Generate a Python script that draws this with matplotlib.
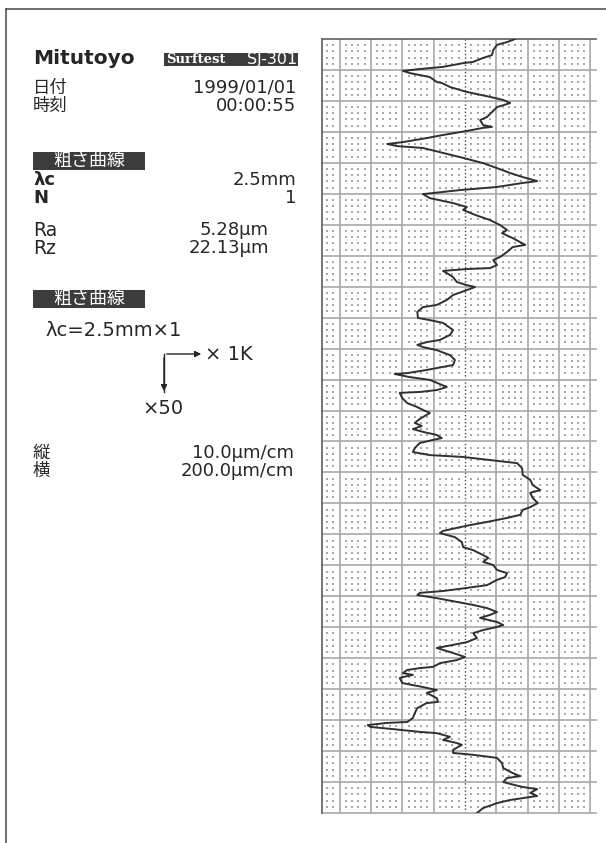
#!/usr/bin/env python3
"""Mitutoyo Surftest SJ-301 roughness printout, redrawn."""
import matplotlib

matplotlib.use("Agg")
import matplotlib.pyplot as plt
import numpy as np
from matplotlib.patches import Rectangle

# profile: position along the sample (um) and height (um)
position_um = [
    0, 10, 19, 36, 52, 61, 74, 78, 90, 97, 103, 110, 123, 139, 142, 155, 171, 187, 197, 207,
    220, 236, 252, 262, 278, 284, 287, 297, 310, 320, 333, 339, 346, 352, 368, 384, 401, 417, 433, 446,
    459, 465, 478, 488, 501, 514, 530, 543, 552, 568, 585, 601, 617, 627, 643, 665, 672, 688, 704, 714,
    730, 740, 743, 749, 756, 769, 785, 795, 801, 811, 827, 843, 859, 866, 882, 901, 908, 917, 940, 956,
    972, 979, 988, 995, 1005, 1021, 1037, 1053, 1059, 1069, 1079, 1082, 1092, 1101, 1124, 1134, 1140, 1143, 1160, 1176,
    1189, 1198, 1208, 1227, 1240, 1250, 1260, 1269, 1279, 1289, 1295, 1305, 1321, 1334, 1344, 1350, 1360, 1370, 1386, 1408,
    1424, 1441, 1457, 1466, 1483, 1499, 1512, 1521, 1537, 1547, 1560, 1570, 1579, 1589, 1596, 1609, 1625, 1641, 1651, 1667,
    1676, 1689, 1699, 1715, 1725, 1738, 1747, 1764, 1773, 1783, 1789, 1796, 1806, 1818, 1828, 1838, 1851, 1860, 1870, 1883,
    1893, 1902, 1909, 1919, 1935, 1948, 1957, 1967, 1980, 1996, 2006, 2016, 2028, 2032, 2038, 2048, 2054, 2061, 2064, 2080,
    2087, 2093, 2103, 2112, 2129, 2141, 2145, 2161, 2177, 2193, 2206, 2209, 2216, 2222, 2229, 2238, 2242, 2254, 2264, 2274,
    2280, 2296, 2306, 2312, 2322, 2339, 2355, 2371, 2381, 2387, 2400, 2406, 2416, 2423, 2435, 2445, 2452, 2458, 2468, 2484,
    2500,
]
height_um = [
    8.0, 6.7, 5.1, 4.5, 4.3, 2.9, 1.3, -0.3, -3.5, -7.2, -9.9, -8.8, -5.6, -4.5, -3.7, -2.4, 0.3, 4.0, 6.1, 7.2,
    5.1, 4.3, 3.5, 2.4, 2.9, 4.3, 2.9, 0.3, -3.5, -6.1, -9.9, -12.4, -10.8, -6.7, -3.5, -0.3, 2.9, 5.1, 7.2, 9.2,
    11.5, 9.2, 5.1, -0.8, -6.7, -5.6, -1.9, 0.3, -0.3, 1.6, 4.0, 5.6, 6.7, 5.9, 7.6, 9.6, 7.6, 6.7, 5.6, 4.5,
    5.1, 4.0, 0.3, -3.5, -2.9, -1.9, -1.3, 0.3, 1.6, 0.3, -1.9, -2.9, -4.5, -6.7, -7.6, -7.5, -5.6, -3.5, -1.9, -2.4,
    -4.0, -6.1, -7.6, -6.7, -4.5, -2.4, -1.6, -1.9, -3.5, -6.1, -9.2, -11.2, -8.8, -5.6, -2.9, -4.5, -7.2, -10.4, -10.0, -9.2,
    -7.6, -6.7, -5.6, -7.2, -8.0, -6.9, -8.3, -6.7, -4.5, -3.7, -5.1, -7.2, -8.0, -8.3, -5.6, -0.3, 4.0, 8.3, 9.1, 9.2,
    10.4, 10.8, 12.0, 10.4, 10.8, 11.6, 10.4, 9.2, 8.8, 6.7, 3.5, 0.8, -1.3, -3.5, -4.0, -1.6, -0.5, -0.3, 1.3, 2.9,
    3.7, 2.9, 4.5, 5.1, 6.7, 6.4, 5.1, 3.5, 0.3, -3.5, -7.2, -7.6, -4.5, -1.3, 1.3, 3.5, 5.1, 4.0, 2.4, 5.1,
    6.1, 4.5, 2.9, 1.3, 1.9, 0.3, -1.9, -4.5, -2.4, 0.0, -1.3, -4.0, -5.1, -7.2, -9.2, -9.9, -8.3, -9.9, -10.4, -10.0,
    -8.3, -6.7, -4.5, -6.1, -4.5, -4.3, -6.1, -7.6, -8.0, -8.3, -9.2, -12.4, -15.5, -15.1, -11.5, -7.2, -4.5, -2.4, -3.5, -1.3,
    -0.5, -1.9, -1.9, 1.3, 5.1, 5.9, 6.1, 7.6, 8.8, 6.7, 6.1, 7.2, 9.2, 11.5, 10.4, 11.5, 9.2, 7.2, 5.1, 2.9,
    1.9,
]

# header values
date_str = "1999/01/01"
time_str = "00:00:55"
cutoff_str = "2.5mm"
n_str = "1"
ra_str = "5.28μm"
rz_str = "22.13μm"
vert_scale = "10.0μm/cm"
horiz_scale = "200.0μm/cm"

INK = "#262626"
BOX = "#3c3c3c"
CJK = ["Noto Sans CJK JP", "DejaVu Sans"]
VAL = 13  # size of the printed values
JP = 12.5  # size of the Japanese labels

fig = plt.figure(figsize=(6.06, 8.43), dpi=100)
fig.patch.set_facecolor("white")

# pixel-space layer for the header text and frame
panel = fig.add_axes([0, 0, 1, 1])
panel.set_xlim(0, 606)
panel.set_ylim(843, 0)
panel.axis("off")

panel.plot([6, 6], [843, 9], color="#555555", lw=1.2)
panel.plot([6, 606], [9, 9], color="#555555", lw=1.2)

panel.text(33, 58, "Mitutoyo", fontsize=14.5, fontweight="bold", color=INK, va="center")
panel.add_patch(Rectangle((164, 53), 134, 13, facecolor=BOX, edgecolor="none"))
panel.text(166, 59.5, "Surftest", fontsize=9.5, family="DejaVu Serif", fontweight="bold",
           color="white", va="center")
panel.text(297, 59.5, "SJ-301", fontsize=11.5, color="white", va="center", ha="right")


def pair(y_top, y_bottom, left_a, left_b, right_a, right_b, x_right, left_kw):
    panel.text(33, y_top, left_a, color=INK, va="center", **left_kw)
    panel.text(33, y_bottom, left_b, color=INK, va="center", **left_kw)
    panel.text(x_right, y_top, right_a, fontsize=VAL, color=INK, va="center", ha="right")
    panel.text(x_right, y_bottom, right_b, fontsize=VAL, color=INK, va="center", ha="right")


cjk_kw = dict(fontsize=JP, family=CJK)
pair(88, 106, "日付", "時刻", date_str, time_str, 296, cjk_kw)

for top in (152, 290):
    panel.add_patch(Rectangle((33, top), 112, 18, facecolor=BOX, edgecolor="none"))
    panel.text(89, top + 9, "粗さ曲線", fontsize=13, family=CJK, color="white",
               va="center", ha="center")

pair(180, 198, "λc", "N", cutoff_str, n_str, 296, dict(fontsize=13, fontweight="bold"))
pair(230, 248, "Ra", "Rz", ra_str, rz_str, 269, dict(fontsize=13.5))

panel.text(45, 330, "λc=" + cutoff_str + "×" + n_str, fontsize=14, color=INK, va="center")
panel.plot([164, 164], [392, 354], color=INK, lw=1.0)
panel.annotate("", xy=(204, 354), xytext=(164, 354),
               arrowprops=dict(arrowstyle="-|>", color=INK, lw=1.0, mutation_scale=9))
panel.annotate("", xy=(164, 394), xytext=(164, 355),
               arrowprops=dict(arrowstyle="-|>", color=INK, lw=1.0, mutation_scale=9))
panel.text(205, 354, "× 1K", fontsize=14, color=INK, va="center")
panel.text(142, 409, "×50", fontsize=14, color=INK, va="center")

pair(453, 471, "縦", "横", vert_scale, horiz_scale, 294, cjk_kw)

# recorder chart: 5 um per division across, 100 um per division down
ax = fig.add_axes([322 / 606, 30 / 843, 274 / 606, 774 / 843])
ax.set_xlim(-22.79, 20.88)
ax.set_ylim(2500, 0)
ax.set_facecolor("white")
for side in ("right", "bottom"):
    ax.spines[side].set_visible(False)
for side in ("left", "top"):
    ax.spines[side].set_color("#6a6a6a")
    ax.spines[side].set_linewidth(1.3)
ax.set_xticks([])
ax.set_yticks([])

minor_x = np.array([v for v in range(-22, 21) if v % 5 != 0])
minor_y = np.array([v for v in range(20, 2500, 20) if v % 100 != 0])
gx, gy = np.meshgrid(minor_x, minor_y)
ax.scatter(gx.ravel(), gy.ravel(), s=1.3, marker="s", color="#a9a9a9", linewidths=0, zorder=1)

for xv in range(-20, 21, 5):
    if xv == 0:
        ax.axvline(xv, color="#444444", lw=1.0, linestyle=(0, (1, 1.6)), zorder=2)
    else:
        ax.axvline(xv, color="#a8a8a8", lw=1.2, zorder=2)
for yv in range(100, 2501, 100):
    ax.axhline(yv, color="#a8a8a8", lw=1.2, zorder=2, clip_on=False)

ax.plot(height_um, position_um, color="#303030", lw=1.4, zorder=3)

fig.savefig("out.png", dpi=100, facecolor="white")
